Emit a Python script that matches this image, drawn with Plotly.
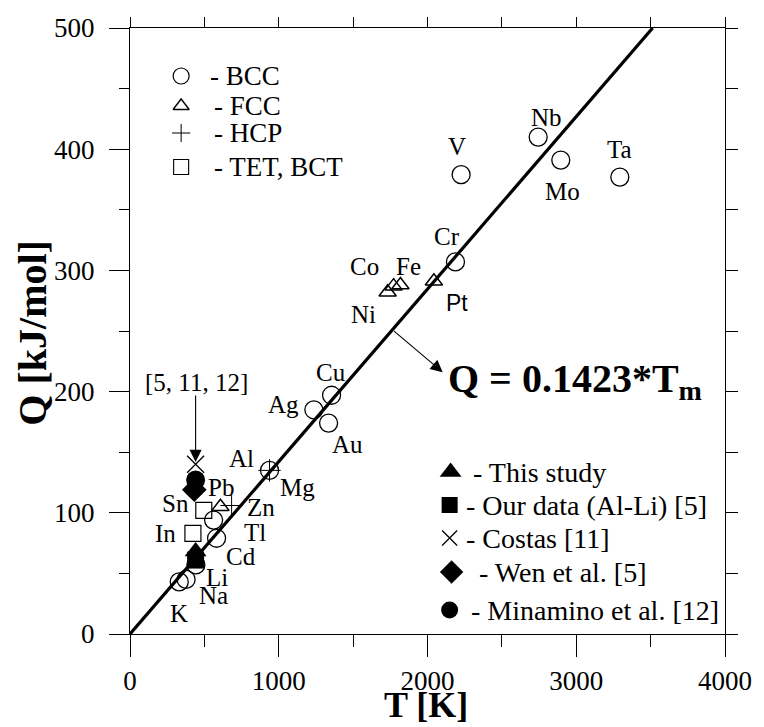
import plotly.graph_objects as go

# ---------------- data ----------------
bcc_T = [331, 377, 443, 562, 582, 938, 1236, 1335, 1355, 2188, 2226, 2744, 2896, 3293]
bcc_Q = [43, 45, 57, 94, 79, 135, 185, 174, 197, 307, 379, 410, 391, 377]

fcc_T = [608, 1732, 1772, 1818, 2043]
fcc_Q = [105, 282, 287, 288, 291]

hcp_T = [683, 938]
hcp_Q = [106, 135]

tet_T = [496, 423]
tet_Q = [102, 83]

study_T = [441]
study_Q = [68]
ourdata_T = [441]
ourdata_Q = [61]
costas_T = [441]
costas_Q = [140]
wen_T = [432]
wen_Q = [119]
minamino_T = [441]
minamino_Q = [127]

fit_slope = 0.1423
fit_T = [0, 500 / fit_slope]
fit_Q = [fit_slope * t for t in fit_T]

element_names = ["V", "Nb", "Mo", "Ta", "Cr", "Co", "Fe", "Ni", "Pt", "Cu", "Ag", "Au",
                 "Al", "Mg", "Pb", "Sn", "Zn", "In", "Tl", "Cd", "Li", "Na", "K"]
label_T = [2195, 2797, 2909, 3293, 2129, 1574, 1871, 1567, 2195, 1349, 1030, 1461,
           747, 1124, 615, 304, 879, 238, 838, 749, 584, 562, 331]
label_Q = [402, 426, 365, 400, 328, 303, 303, 264, 273, 216, 189, 156,
           145, 121, 121, 108, 104, 83, 84, 64, 47, 32, 17]

x_ticks = [0, 1000, 2000, 3000, 4000]
y_ticks = [0, 100, 200, 300, 400, 500]

legend1_labels = ["- BCC", "- FCC", "- HCP", "- TET, BCT"]
legend2_labels = ["- This study", "- Our data (Al-Li) [5]", "- Costas [11]",
                  "- Wen et al. [5]", "- Minamino et al. [12]"]

# ---------------- layout helpers ----------------
W, H = 764, 727
L, R, TOP, B = 130, 735, 28, 634
SERIF = "Liberation Serif, 'Times New Roman', Times, serif"
SANS = "Liberation Sans, Arial, sans-serif"


def fx(px):
    return (px - L) / (R - L)


def fy(py):
    return (B - py) / (B - TOP)


fig = go.Figure()

# fit line
fig.add_trace(go.Scatter(x=fit_T, y=fit_Q, mode="lines",
                         line=dict(color="black", width=3.2), showlegend=False))

fig.add_trace(go.Scatter(x=bcc_T, y=bcc_Q, mode="markers", showlegend=False,
                         marker=dict(symbol="circle-open", size=18, color="black",
                                     line=dict(width=1.3))))
fig.add_trace(go.Scatter(x=fcc_T, y=fcc_Q, mode="markers", showlegend=False,
                         marker=dict(symbol="triangle-up-open", size=15, color="black",
                                     line=dict(width=1.5))))
fig.add_trace(go.Scatter(x=hcp_T, y=hcp_Q, mode="markers", showlegend=False,
                         marker=dict(symbol="cross-thin-open", size=16, color="black",
                                     line=dict(width=1))))
fig.add_trace(go.Scatter(x=tet_T, y=tet_Q, mode="markers", showlegend=False,
                         marker=dict(symbol="square-open", size=16, color="black",
                                     line=dict(width=1.2))))

# filled study markers
fig.add_trace(go.Scatter(x=costas_T, y=costas_Q, mode="markers", showlegend=False,
                         marker=dict(symbol="x-thin-open", size=17, color="black",
                                     line=dict(width=1.3))))
fig.add_trace(go.Scatter(x=minamino_T, y=minamino_Q, mode="markers", showlegend=False,
                         marker=dict(symbol="circle", size=19, color="black")))
fig.add_trace(go.Scatter(x=wen_T, y=wen_Q, mode="markers", showlegend=False,
                         marker=dict(symbol="diamond", size=19, color="black")))
fig.add_trace(go.Scatter(x=study_T, y=study_Q, mode="markers", showlegend=False,
                         marker=dict(symbol="triangle-up", size=19, color="black")))
fig.add_trace(go.Scatter(x=ourdata_T, y=ourdata_Q, mode="markers", showlegend=False,
                         marker=dict(symbol="square", size=17, color="black")))

# legend glyphs on the overlay (fraction) axes
leg1_px = [(182, 76), (182, 106), (182, 133), (182, 167)]
leg1_sym = [dict(symbol="circle-open", size=16, line=dict(width=1.2)),
            dict(symbol="triangle-up-open", size=14, line=dict(width=1.4)),
            dict(symbol="cross-thin-open", size=13, line=dict(width=1)),
            dict(symbol="square-open", size=15, line=dict(width=1.1))]
for (px, py), m in zip(leg1_px, leg1_sym):
    fig.add_trace(go.Scatter(x=[fx(px)], y=[fy(py)], xaxis="x2", yaxis="y2",
                             mode="markers", showlegend=False, hoverinfo="skip",
                             marker=dict(color="black", **m)))

leg2_px = [(456, 472), (455, 505), (455, 538), (457, 572), (455, 610)]
leg2_sym = [dict(symbol="triangle-up", size=19),
            dict(symbol="square", size=16),
            dict(symbol="x-thin-open", size=15, line=dict(width=1.3)),
            dict(symbol="diamond", size=18),
            dict(symbol="circle", size=17)]
for (px, py), m in zip(leg2_px, leg2_sym):
    fig.add_trace(go.Scatter(x=[fx(px)], y=[fy(py)], xaxis="x2", yaxis="y2",
                             mode="markers", showlegend=False, hoverinfo="skip",
                             marker=dict(color="black", **m)))

annotations = []
# element labels
for name, t, q in zip(element_names, label_T, label_Q):
    fam = SANS if name == "Pt" else SERIF
    sz = 23 if name == "Pt" else 25
    annotations.append(dict(x=t, y=q, xref="x", yref="y", text=name, showarrow=False,
                            xanchor="center", yanchor="middle",
                            font=dict(family=fam, size=sz, color="black")))

# legend texts
leg1_text_px = [(209, 76), (213, 106), (213, 133), (213, 167)]
for txt, (px, py) in zip(legend1_labels, leg1_text_px):
    annotations.append(dict(x=fx(px), y=fy(py), xref="paper", yref="paper", text=txt,
                            showarrow=False, xanchor="left", yanchor="middle",
                            font=dict(family=SERIF, size=27, color="black")))
leg2_text_px = [(477, 472), (470, 505), (470, 538), (483, 572), (475, 610)]
for txt, (px, py) in zip(legend2_labels, leg2_text_px):
    annotations.append(dict(x=fx(px), y=fy(py), xref="paper", yref="paper", text=txt,
                            showarrow=False, xanchor="left", yanchor="middle",
                            font=dict(family=SERIF, size=28, color="black")))

# reference arrow [5, 11, 12]
annotations.append(dict(x=441, y=142, xref="x", yref="y", ax=441, ay=198,
                        axref="x", ayref="y", text="", showarrow=True,
                        arrowhead=2, arrowsize=2.2, arrowwidth=1.1, arrowcolor="black"))
annotations.append(dict(x=fx(198), y=fy(382), xref="paper", yref="paper",
                        text="[5, 11, 12]", showarrow=False,
                        xanchor="center", yanchor="middle",
                        font=dict(family=SERIF, size=25, color="black")))

# equation arrow and text
annotations.append(dict(x=2102, y=216, xref="x", yref="y", ax=1765, ay=251,
                        axref="x", ayref="y", text="", showarrow=True,
                        arrowhead=2, arrowsize=2.2, arrowwidth=1.1, arrowcolor="black"))
annotations.append(dict(x=fx(451), y=fy(381), xref="paper", yref="paper",
                        text="<b>Q = 0.1423*T<sub>m</sub></b>", showarrow=False,
                        xanchor="left", yanchor="middle",
                        font=dict(family=SERIF, size=40, color="black")))

# axis titles
annotations.append(dict(x=fx(31), y=fy(333), xref="paper", yref="paper",
                        text="<b>Q [kJ/mol]</b>", textangle=-90, showarrow=False,
                        xanchor="center", yanchor="middle",
                        font=dict(family=SERIF, size=40, color="black")))
annotations.append(dict(x=fx(431), y=fy(705), xref="paper", yref="paper",
                        text="<b>T [K]</b>", showarrow=False,
                        xanchor="center", yanchor="middle",
                        font=dict(family=SERIF, size=36, color="black")))

axis_common = dict(showgrid=False, zeroline=False, showline=True, linecolor="black",
                   linewidth=1.2, ticks="outside", tickcolor="black", tickwidth=1.2)

fig.update_layout(
    width=W, height=H,
    margin=dict(l=L, r=W - R, t=TOP, b=H - B),
    paper_bgcolor="white", plot_bgcolor="white",
    showlegend=False,
    font=dict(family=SERIF, color="black"),
    xaxis=dict(range=[0, 4000], tickvals=x_ticks, ticklen=22,
               tickfont=dict(family=SERIF, size=27, color="black"),
               ticklabelstandoff=0,
               minor=dict(dtick=500, tick0=0, ticklen=12, ticks="outside",
                          tickcolor="black", tickwidth=1.2, showgrid=False),
               **axis_common),
    yaxis=dict(range=[0, 500], tickvals=y_ticks, ticklen=20,
               tickfont=dict(family=SERIF, size=27, color="black"),
               ticklabelstandoff=9,
               minor=dict(dtick=50, tick0=0, ticklen=10, ticks="outside",
                          tickcolor="black", tickwidth=1.2, showgrid=False),
               **axis_common),
    xaxis2=dict(range=[0, 1], overlaying="x", side="top", dtick=0.125, tick0=0,
                ticklen=10, showticklabels=False, **axis_common),
    yaxis2=dict(range=[0, 1], overlaying="y", side="right", dtick=0.1, tick0=0,
                ticklen=12, showticklabels=False, **axis_common),
    annotations=annotations,
)

fig.write_html("out.html")
